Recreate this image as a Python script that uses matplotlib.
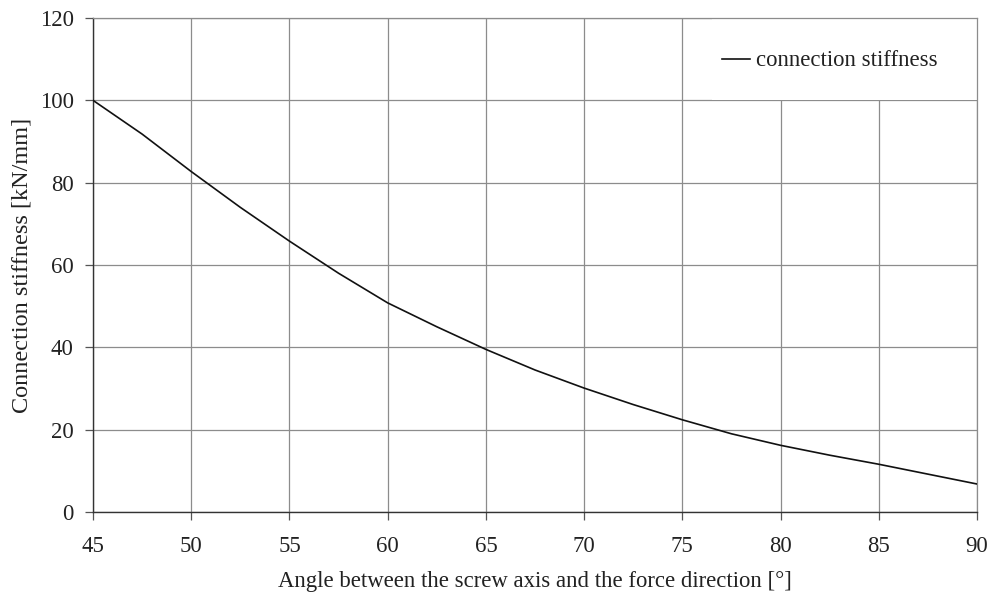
import matplotlib
matplotlib.use("Agg")
import matplotlib.pyplot as plt
from matplotlib.patches import Rectangle

angle = [45, 47.5, 50, 52.5, 55, 57.5, 60, 62.5, 65, 67.5, 70, 72.5, 75, 77.5, 80, 82.5, 85, 87.5, 90]
stiffness = [100, 91.8, 82.7, 74.0, 65.8, 58.0, 50.8, 45.0, 39.5, 34.5, 30.1, 26.1, 22.4, 19.0, 16.2, 13.8, 11.6, 9.2, 6.8]
xticks = [45, 50, 55, 60, 65, 70, 75, 80, 85, 90]
yticks = [0, 20, 40, 60, 80, 100, 120]

plt.rcParams['font.family'] = ['Liberation Serif', 'DejaVu Serif']

fig = plt.figure(figsize=(9.89, 5.97), dpi=100)
ax = fig.add_axes([93/989, 1-512/597, 884/989, 494/597])

ax.set_axisbelow(True)
ax.grid(True, color='#8c8c8c', linewidth=0.9)
ax.add_patch(Rectangle((0.70, 100/120), 0.30, 1-100/120, transform=ax.transAxes,
                       facecolor='white', edgecolor='none', zorder=1))
ax.plot(angle, stiffness, color='#111111', linewidth=1.2, zorder=3, label='connection stiffness')

ax.set_xlim(45, 90)
ax.set_ylim(0, 120)
ax.set_xticks(xticks)
ax.set_yticks(yticks)
ax.tick_params(axis='both', direction='out', length=6, width=0.9, color='#555555',
               labelsize=16.4, labelcolor='#222222')
ax.tick_params(axis='x', pad=11)
ax.tick_params(axis='y', pad=8)
for s in ['left', 'bottom']:
    ax.spines[s].set_color('#333333')
    ax.spines[s].set_linewidth(1.0)
for s in ['top', 'right']:
    ax.spines[s].set_color('#8c8c8c')
    ax.spines[s].set_linewidth(0.9)

ax.set_xlabel('Angle between the screw axis and the force direction [°]', fontsize=16.4, color='#222222', va='center')
ax.xaxis.set_label_coords(0.5, (512-581)/494)
ax.set_ylabel('Connection stiffness [kN/mm]', fontsize=17.5, color='#222222', va='center')
ax.yaxis.set_label_coords((22-93)/884, 0.5)

leg = ax.legend(loc='center right', bbox_to_anchor=(0.956, 0.913), frameon=False,
                fontsize=16.4, handlelength=1.2, handletextpad=0.3, borderpad=0, borderaxespad=0)
for t in leg.get_texts():
    t.set_color('#222222')

fig.savefig('out.png', dpi=100)
